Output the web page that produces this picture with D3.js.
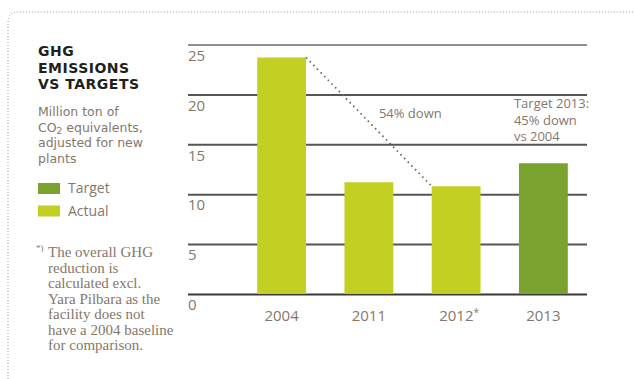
<!DOCTYPE html>
<html>
<head>
<meta charset="utf-8">
<script src="https://cdn.jsdelivr.net/npm/d3@7"></script>
<style>
  body { margin: 0; background: #fff; }
  svg { display: block; }
</style>
</head>
<body>
<div id="chart"></div>
<script>
"use strict"

// data
let years = ["2004", "2011", "2012", "2013"];
let values = [23.7, 11.2, 10.8, 13.1];
let kinds = ["Actual", "Actual", "Actual", "Target"];
let yTicks = [0, 5, 10, 15, 20, 25];
let legendItems = ["Target", "Actual"];
let titleLines = ["GHG", "EMISSIONS", "VS TARGETS"];
let subtitleLines = ["Million ton of", "CO|2| equivalents,", "adjusted for new", "plants"];
let noteLines = ["The overall GHG", "reduction is", "calculated excl.", "Yara Pilbara as the", "facility does not", "have a 2004 baseline", "for comparison."];
let targetNote = ["Target 2013:", "45% down", "vs 2004"];
let downNote = "54% down";

let colors = { "Actual": "#c2d024", "Target": "#79a22f" };
let textColor = "#85776b";
let sansFont = "'Open Sans', sans-serif";

let width = 634, height = 379;

let svg = d3.select("#chart").append("svg")
    .attr("width", width)
    .attr("height", height)

// dotted frame with rounded top-left corner
svg.append("path")
    .attr("d", "M8,379 L8,22 Q8,12 18,12 L634,12")
    .attr("fill", "none")
    .attr("stroke", "#9a9a9a")
    .attr("stroke-width", 1)
    .attr("stroke-dasharray", "1,2")

// scales
let y = d3.scaleLinear()
    .domain([0, 25])
    .range([294, 44.5]);

let x = d3.scaleBand()
    .domain(years)
    .range([238, 587])
    .paddingInner(0.44)
    .paddingOuter(0.22);

let gridLeft = 188, gridRight = 587;

// gridlines + labels under each line
let yAxis = svg.append("g")
    .attr("transform", "translate(" + gridLeft + ",0)")
    .call(d3.axisRight(y).tickValues(yTicks).tickSize(gridRight - gridLeft))
yAxis.select(".domain").remove();
yAxis.selectAll("line")
    .attr("stroke", function(d){
        if(d == 25) return "#8f8f8f";
        if(d == 0) return "#3a3a3a";
        return "#555";
    })
    .attr("stroke-width", 2)
yAxis.selectAll("text")
    .attr("x", 0)
    .attr("dy", "1.05em")
    .attr("text-anchor", "start")
    .style("font-family", sansFont)
    .style("font-size", "15px")
    .style("fill", textColor)

// bars
svg.append("g").selectAll("rect")
    .data(years)
    .join("rect")
    .attr("x", function(d){ return x(d); })
    .attr("y", function(d, i){ return y(values[i]); })
    .attr("width", x.bandwidth())
    .attr("height", function(d, i){ return y(0) - y(values[i]); })
    .attr("fill", function(d, i){ return colors[kinds[i]]; })

// x axis labels
let xAxis = svg.append("g")
    .attr("transform", "translate(0," + y(0) + ")")
    .call(d3.axisBottom(x).tickSize(0).tickPadding(16))
xAxis.select(".domain").remove();
xAxis.selectAll("text")
    .style("font-family", sansFont)
    .style("font-size", "15px")
    .style("fill", textColor)
xAxis.selectAll("text").filter(function(d){ return d == "2012"; })
    .attr("dx", "3px")
    .append("tspan")
    .attr("dy", "-0.5em")
    .style("font-size", "10px")
    .text("*")

// dotted reduction line: top of 2004 bar to top of 2012 bar
svg.append("line")
    .attr("x1", x("2004") + x.bandwidth())
    .attr("y1", y(values[0]))
    .attr("x2", x("2012"))
    .attr("y2", y(values[2]))
    .attr("stroke", "#7a6b5e")
    .attr("stroke-width", 1.8)
    .attr("stroke-dasharray", "1.6,3.6")

svg.append("text")
    .attr("x", x("2011") + x.bandwidth() / 2 + 10)
    .attr("y", y(17.6))
    .style("font-family", sansFont)
    .style("font-size", "13px")
    .style("fill", textColor)
    .text(downNote)

svg.append("text")
    .attr("x", x("2013") - 5)
    .attr("y", y(18.6))
    .style("font-family", sansFont)
    .style("font-size", "13px")
    .style("fill", textColor)
    .selectAll("tspan")
    .data(targetNote)
    .join("tspan")
    .attr("x", x("2013") - 5)
    .attr("dy", function(d, i){ return i == 0 ? 0 : 16.5; })
    .text(function(d){ return d; })

// left panel: title
svg.append("text")
    .attr("x", 38)
    .attr("y", 56)
    .style("font-family", "'DejaVu Sans', sans-serif")
    .style("font-weight", "bold")
    .style("font-size", "14px")
    .style("letter-spacing", "0.5px")
    .style("fill", "#231f20")
    .selectAll("tspan")
    .data(titleLines)
    .join("tspan")
    .attr("x", 38)
    .attr("dy", function(d, i){ return i == 0 ? 0 : 16.5; })
    .text(function(d){ return d; })

// subtitle, one text per line, CO2 with a subscript
for(let i = 0; i < subtitleLines.length; i++){
    let parts = subtitleLines[i].split("|");
    let line = svg.append("text")
        .attr("x", 38)
        .attr("y", 116 + 15.5 * i)
        .style("font-family", "'DejaVu Sans', sans-serif")
        .style("font-size", "12.5px")
        .style("fill", textColor)
    for(let j = 0; j < parts.length; j++){
        let t = line.append("tspan").text(parts[j]);
        if(j == 1){
            t.attr("dy", 2).style("font-size", "9px");
        }
        if(j == 2){
            t.attr("dy", -2);
        }
    }
}

// legend
let legend = svg.append("g").selectAll("g")
    .data(legendItems)
    .join("g")
    .attr("transform", function(d, i){ return "translate(38," + (183 + 22.5 * i) + ")"; })
legend.append("rect")
    .attr("width", 22)
    .attr("height", 11)
    .attr("fill", function(d){ return colors[d]; })
legend.append("text")
    .attr("x", 30)
    .attr("y", 10)
    .style("font-family", sansFont)
    .style("font-size", "14px")
    .style("fill", textColor)
    .text(function(d){ return d; })

// footnote
svg.append("text")
    .attr("x", 36)
    .attr("y", 251)
    .style("font-family", "'Liberation Serif', serif")
    .style("font-size", "9px")
    .style("fill", textColor)
    .text("*)")

svg.append("text")
    .attr("x", 48)
    .attr("y", 257)
    .style("font-family", "'Liberation Serif', serif")
    .style("font-size", "15px")
    .style("fill", textColor)
    .selectAll("tspan")
    .data(noteLines)
    .join("tspan")
    .attr("x", 48)
    .attr("dy", function(d, i){ return i == 0 ? 0 : 15.5; })
    .text(function(d){ return d; })
</script>
</body>
</html>
